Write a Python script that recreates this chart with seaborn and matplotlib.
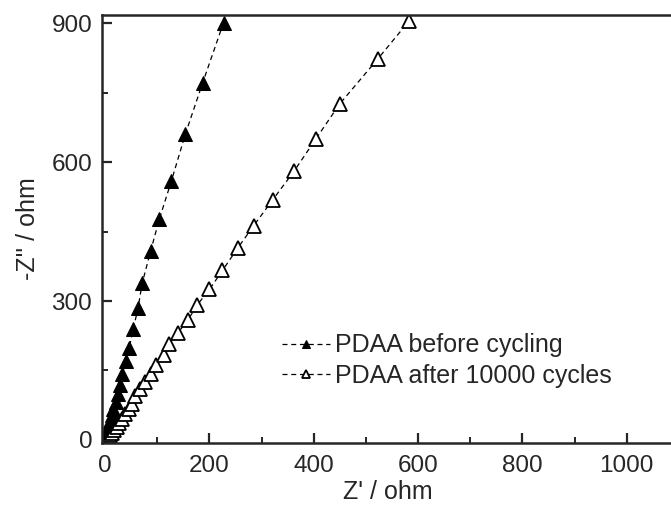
import numpy as np
import pandas as pd
import matplotlib
matplotlib.use('Agg')
import matplotlib.pyplot as plt
from matplotlib.ticker import MultipleLocator
import seaborn as sns

# data (Z' and -Z'' in ohm)
z_re_before = [1, 2, 3, 4, 6, 8, 10, 13, 16, 20, 24, 29, 33, 40, 46, 54, 63, 71, 87, 104, 127, 154, 187, 227]
z_im_before = [2, 5, 10, 16, 24, 32, 42, 53, 66, 82, 100, 119, 143, 171, 199, 240, 284, 338, 407, 477, 559, 661, 771, 901]

z_re_after = [2, 4, 6, 9, 13, 17, 22, 27, 32, 38, 45, 52, 58, 67, 77, 87, 98, 112, 123, 140, 158, 177,
              200, 225, 254, 285, 321, 362, 404, 450, 523, 583]
z_im_after = [1, 3, 6, 10, 15, 21, 28, 36, 45, 55, 66, 78, 95, 110, 126, 143, 162, 184, 208, 232, 258, 292,
              325, 366, 414, 463, 518, 580, 650, 726, 823, 905]

df_before = pd.DataFrame({'zre': z_re_before, 'zim': z_im_before})
df_after = pd.DataFrame({'zre': z_re_after, 'zim': z_im_after})

sns.set_style('ticks')
plt.rcParams['font.family'] = ['Liberation Sans', 'DejaVu Sans']

fig = plt.figure(figsize=(6.71, 5.08), dpi=100)
ax = fig.add_axes([0.152, 0.128, 0.852, 0.842])

sns.lineplot(data=df_before, x='zre', y='zim', sort=False, ax=ax, color='black', lw=0.9,
             marker='^', markersize=10, markerfacecolor='black', markeredgecolor='black',
             linestyle=(0, (4, 3)), label='PDAA before cycling')
sns.lineplot(data=df_after, x='zre', y='zim', sort=False, ax=ax, color='black', lw=0.9,
             marker='^', markersize=10, markerfacecolor='white', markeredgecolor='black',
             markeredgewidth=1.3, linestyle=(0, (4, 3)), label='PDAA after 10000 cycles')

ax.set_xlim(-6, 1090)
ax.set_ylim(-6.5, 917)
ax.xaxis.set_major_locator(MultipleLocator(200))
ax.xaxis.set_minor_locator(MultipleLocator(100))
ax.yaxis.set_major_locator(MultipleLocator(300))
ax.yaxis.set_minor_locator(MultipleLocator(150))
ax.tick_params(which='major', direction='in', length=7, width=1.6, labelsize=17.5)
ax.tick_params(axis='x', which='major', pad=9)
ax.tick_params(axis='y', which='major', pad=7)
ax.tick_params(which='minor', direction='in', length=4, width=1.4)

for side in ['left', 'bottom', 'top']:
    ax.spines[side].set_linewidth(1.8)
ax.spines['right'].set_visible(False)

ax.set_xlabel("Z' / ohm", fontsize=18, labelpad=2)
ax.set_ylabel("-Z'' / ohm", fontsize=18, labelpad=8)

ax.legend(loc='center left', bbox_to_anchor=(0.276, 0.193), frameon=False, fontsize=18,
          handlelength=1.9, handletextpad=0.2, labelspacing=0.25, markerscale=0.6)

plt.savefig('out.png', dpi=100)
